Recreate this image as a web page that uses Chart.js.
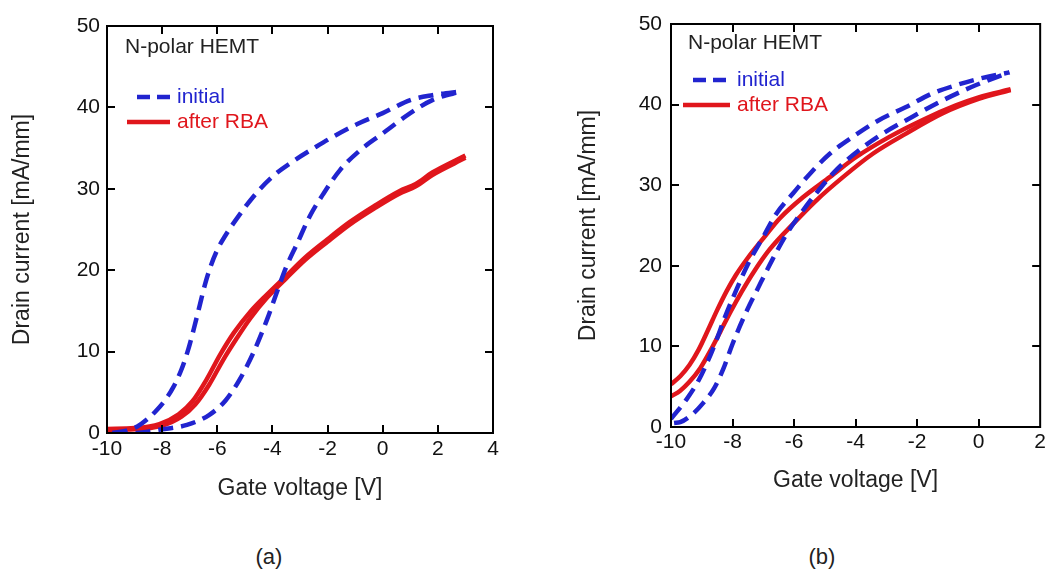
<!DOCTYPE html>
<html>
<head>
<meta charset="utf-8">
<script src="https://cdn.jsdelivr.net/npm/chart.js@4.4.1/dist/chart.umd.min.js"></script>
<style>
  html, body { margin: 0; padding: 0; background: #ffffff; }
  body { width: 1049px; height: 573px; position: relative; overflow: hidden; font-family: "Liberation Sans", Arial, sans-serif; }
  canvas { position: absolute; top: 0; }
  #ca { left: 0; }
  #cb { left: 530px; }
  .cap { position: absolute; top: 544px; font-size: 22px; color: #222; width: 60px; text-align: center; }
</style>
</head>
<body>
<canvas id="ca" width="520" height="520"></canvas>
<canvas id="cb" width="519" height="520"></canvas>
<div class="cap" style="left:239px">(a)</div>
<div class="cap" style="left:792px">(b)</div>
<script>
// ---------------- DATA ----------------
// Panel (a)
const aXTicks = [-10, -8, -6, -4, -2, 0, 2, 4];
const aYTicks = [0, 10, 20, 30, 40, 50];
const aInitUpV = [-9.8, -9.3, -8.9, -8.5, -8.2, -7.9, -7.6, -7.3, -7.05, -6.85, -6.65, -6.45, -6.25, -6.0, -5.7, -5.3, -4.7, -4.0, -3.2, -2.4, -1.8, -0.9, 0.0, 1.0, 1.8, 2.9];
const aInitUpI = [0.0, 0.3, 0.8, 1.8, 2.8, 4.0, 5.6, 7.8, 10.3, 12.8, 15.5, 18.2, 20.4, 22.5, 24.3, 26.3, 29.0, 31.5, 33.5, 35.2, 36.4, 38.0, 39.3, 40.9, 41.5, 42.0];
const aInitDnV = [-9.8, -9.0, -8.1, -7.1, -6.3, -5.7, -5.2, -4.7, -4.2, -3.85, -3.5, -3.1, -2.65, -2.15, -1.55, -0.8, 0.0, 1.0, 1.8, 2.9];
const aInitDnI = [0.0, 0.0, 0.4, 1.0, 2.2, 4.0, 6.5, 9.8, 13.9, 17.2, 20.4, 23.3, 26.6, 29.4, 32.3, 34.8, 36.8, 39.3, 40.9, 42.0];
const aRbaUpV = [-10, -9.0, -8.1, -7.4, -6.9, -6.4, -5.9, -5.4, -4.8, -4.2, -3.5, -2.8, -2.0, -1.2, -0.3, 0.6, 1.2, 1.8, 3.0];
const aRbaUpI = [0.5, 0.6, 1.1, 2.3, 3.9, 6.5, 9.6, 12.3, 14.9, 17.0, 19.3, 21.6, 23.8, 25.9, 27.9, 29.7, 30.6, 32.0, 34.1];
const aRbaDnV = [-10, -9.0, -8.0, -7.3, -6.8, -6.3, -5.8, -5.3, -4.8, -4.2, -3.5, -2.8, -2.0, -1.2, -0.3, 0.6, 1.2, 1.8, 3.0];
const aRbaDnI = [0.4, 0.45, 0.9, 2.0, 3.5, 5.9, 8.9, 11.6, 14.1, 16.6, 19.0, 21.3, 23.5, 25.6, 27.6, 29.4, 30.3, 31.7, 33.8];

// Panel (b)
const bXTicks = [-10, -8, -6, -4, -2, 0, 2];
const bYTicks = [0, 10, 20, 30, 40, 50];
const bInitUpV = [-10, -9.5, -9.1, -8.8, -8.55, -8.25, -7.9, -7.5, -7.0, -6.57, -6.03, -5.49, -4.84, -4.09, -3.23, -2.36, -1.5, -0.74, 0.0, 1.0];
const bInitUpI = [1.0, 3.4, 5.8, 8.2, 10.5, 13.6, 16.8, 20.2, 23.6, 26.5, 29.0, 31.4, 33.9, 36.0, 38.1, 39.7, 41.4, 42.4, 43.2, 44.0];
const bInitDnV = [-9.9, -9.7, -9.3, -8.95, -8.6, -8.3, -8.0, -7.6, -7.15, -6.7, -6.25, -5.8, -5.3, -4.6, -3.8, -3.12, -2.15, -1.18, -0.1, 1.0];
const bInitDnI = [0.5, 0.6, 1.6, 3.0, 4.8, 7.2, 10.3, 13.9, 17.4, 20.8, 23.9, 26.4, 28.9, 32.0, 34.6, 36.4, 38.5, 40.5, 42.4, 44.0];
const bRbaUpV = [-10, -9.7, -9.4, -9.1, -8.8, -8.5, -8.2, -7.9, -7.5, -7.0, -6.46, -5.71, -4.84, -3.98, -2.9, -1.82, -0.74, 0.0, 1.04];
const bRbaUpI = [5.3, 6.3, 7.7, 9.6, 12.0, 14.5, 16.8, 18.8, 21.0, 23.4, 25.9, 28.5, 31.0, 33.5, 36.0, 38.1, 39.9, 40.9, 41.9];
const bRbaDnV = [-10, -9.7, -9.4, -9.05, -8.7, -8.4, -8.05, -7.7, -7.3, -6.8, -6.03, -5.28, -4.41, -3.44, -2.36, -1.18, 0.0, 1.04];
const bRbaDnI = [3.8, 4.5, 5.6, 7.3, 9.6, 11.8, 14.4, 16.8, 19.3, 22.0, 25.2, 28.1, 31.0, 33.9, 36.4, 38.9, 40.7, 41.8];

const seriesNames = ['initial', 'after RBA'];
const panelTitle = 'N-polar HEMT';
const xTitle = 'Gate voltage [V]';
const yTitle = 'Drain current [mA/mm]';

// ---------------- STYLE ----------------
const BLUE = '#2124cf';
const RED = '#e0161c';
const FONT = '"Liberation Sans", Arial, sans-serif';

function pts(xs, ys) { return xs.map((x, i) => ({ x: x, y: ys[i] })); }

function ds(xs, ys, color, dashed, width) {
  return {
    data: pts(xs, ys),
    showLine: true,
    borderColor: color,
    backgroundColor: color,
    borderWidth: width,
    borderDash: dashed ? [15, 8] : [],
    pointRadius: 0,
    cubicInterpolationMode: 'monotone',
    fill: false
  };
}

const framePlugin = {
  id: 'frame',
  afterDatasetsDraw(chart, args, opts) {
    const { ctx, chartArea: ca, scales } = chart;
    const xs = scales.x, ys = scales.y;
    ctx.save();
    ctx.strokeStyle = '#000';
    ctx.lineWidth = 2;
    ctx.setLineDash([]);
    const tl = 8;
    ctx.beginPath();
    opts.xTicks.forEach(v => {
      const px = Math.round(xs.getPixelForValue(v));
      if (px <= ca.left + 1 || px >= ca.right - 1) return;
      ctx.moveTo(px, ca.bottom); ctx.lineTo(px, ca.bottom - tl);
      ctx.moveTo(px, ca.top); ctx.lineTo(px, ca.top + tl);
    });
    opts.yTicks.forEach(v => {
      const py = Math.round(ys.getPixelForValue(v));
      if (py <= ca.top + 1 || py >= ca.bottom - 1) return;
      ctx.moveTo(ca.left, py); ctx.lineTo(ca.left + tl, py);
      ctx.moveTo(ca.right, py); ctx.lineTo(ca.right - tl, py);
    });
    ctx.stroke();
    ctx.strokeRect(ca.left, ca.top, ca.right - ca.left, ca.bottom - ca.top);

    const L = ca.left, T = ca.top;
    ctx.font = '21px ' + FONT;
    ctx.textBaseline = 'middle';
    ctx.textAlign = 'left';
    ctx.fillStyle = '#222';
    ctx.fillText(panelTitle, L + opts.title[0], T + opts.title[1]);

    ctx.lineWidth = 4.5;
    ctx.strokeStyle = BLUE;
    ctx.setLineDash([13, 7]);
    ctx.beginPath();
    ctx.moveTo(L + opts.leg1[0], T + opts.leg1[2]);
    ctx.lineTo(L + opts.leg1[1], T + opts.leg1[2]);
    ctx.stroke();
    ctx.fillStyle = BLUE;
    ctx.fillText(seriesNames[0], L + opts.textX, T + opts.leg1[2]);

    ctx.strokeStyle = RED;
    ctx.setLineDash([]);
    ctx.beginPath();
    ctx.moveTo(L + opts.leg2[0], T + opts.leg2[2]);
    ctx.lineTo(L + opts.leg2[1], T + opts.leg2[2]);
    ctx.stroke();
    ctx.fillStyle = RED;
    ctx.fillText(seriesNames[1], L + opts.textX, T + opts.leg2[2]);
    ctx.restore();
  }
};

function makeChart(id, cfg) {
  return new Chart(document.getElementById(id), {
    type: 'scatter',
    data: { datasets: cfg.datasets },
    plugins: [framePlugin],
    options: {
      responsive: false,
      animation: false,
      devicePixelRatio: 1,
      layout: { padding: { left: 0, right: cfg.padRight, top: cfg.padTop, bottom: 0 } },
      plugins: {
        legend: { display: false },
        tooltip: { enabled: false },
        frame: cfg.frame
      },
      scales: {
        x: {
          type: 'linear',
          min: cfg.xMin, max: cfg.xMax,
          afterBuildTicks: (s) => { s.ticks = cfg.xTicks.map(v => ({ value: v })); },
          afterFit: (s) => { s.height = cfg.xHeight; },
          grid: { display: false, drawTicks: false },
          border: { display: false },
          ticks: { color: '#111', font: { family: FONT, size: 21 }, padding: cfg.xTickPad, maxRotation: 0, autoSkip: false },
          title: { display: true, text: xTitle, color: '#222', font: { family: FONT, size: 23 }, padding: { top: 0, bottom: cfg.xTitlePad } }
        },
        y: {
          type: 'linear',
          min: 0, max: 50,
          afterBuildTicks: (s) => { s.ticks = cfg.yTicks.map(v => ({ value: v })); },
          afterFit: (s) => { s.width = cfg.yWidth; },
          grid: { display: false, drawTicks: false },
          border: { display: false },
          ticks: { color: '#111', font: { family: FONT, size: 21 }, padding: cfg.yTickPad, autoSkip: false },
          title: { display: true, text: yTitle, color: '#222', font: { family: FONT, size: 23 }, padding: { top: cfg.yTitlePad, bottom: 0 } }
        }
      }
    }
  });
}

makeChart('ca', {
  datasets: [
    ds(aInitUpV, aInitUpI, BLUE, true, 4.5),
    ds(aInitDnV, aInitDnI, BLUE, true, 4.5),
    ds(aRbaUpV, aRbaUpI, RED, false, 4.5),
    ds(aRbaDnV, aRbaDnI, RED, false, 4.5)
  ],
  xMin: -10, xMax: 4, xTicks: aXTicks, yTicks: aYTicks,
  padRight: 27, padTop: 26, xHeight: 87, yWidth: 107,
  xTickPad: 4, yTickPad: 7, xTitlePad: 18, yTitlePad: 9,
  frame: { xTicks: aXTicks, yTicks: aYTicks, title: [18, 21], leg1: [30, 63, 71], leg2: [20, 63, 96], textX: 70 }
});

makeChart('cb', {
  datasets: [
    ds(bInitUpV, bInitUpI, BLUE, true, 4.5),
    ds(bInitDnV, bInitDnI, BLUE, true, 4.5),
    ds(bRbaUpV, bRbaUpI, RED, false, 4.5),
    ds(bRbaDnV, bRbaDnI, RED, false, 4.5)
  ],
  xMin: -10, xMax: 2, xTicks: bXTicks, yTicks: bYTicks,
  padRight: 7, padTop: 24, xHeight: 93, yWidth: 141,
  xTickPad: 3, yTickPad: 9, xTitlePad: 26, yTitlePad: 45,
  frame: { xTicks: bXTicks, yTicks: bYTicks, title: [17, 19], leg1: [22, 59, 56], leg2: [12, 59, 81], textX: 66 }
});
</script>
</body>
</html>
